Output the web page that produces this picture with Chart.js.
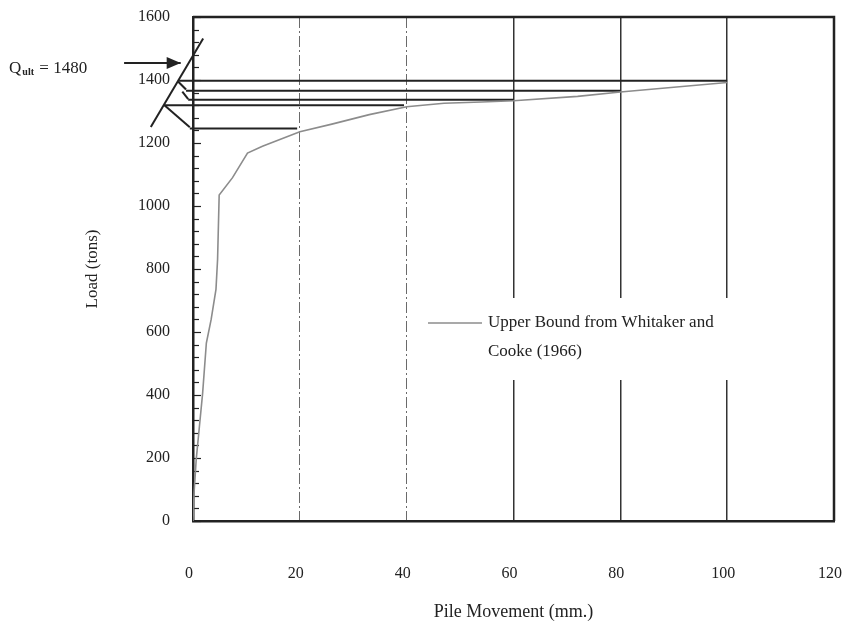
<!DOCTYPE html>
<html>
<head>
<meta charset="utf-8">
<script src="https://cdn.jsdelivr.net/npm/chart.js@4.4.1/dist/chart.umd.min.js"></script>
<style>
  html, body { margin: 0; padding: 0; background: #fff; }
  #wrap { width: 842px; height: 626px; }
</style>
</head>
<body>
<div id="wrap"><canvas id="pileChart" width="842" height="626"></canvas></div>
<script>
const xTicks = [0, 20, 40, 60, 80, 100, 120];
const yTicks = [0, 200, 400, 600, 800, 1000, 1200, 1400, 1600];
const yMinorStep = 40;

// load test curve
const movement = [0, 0.2, 0.6, 1.2, 1.8, 2.5, 3.4, 4.3, 4.6, 4.9, 7.4, 10.2, 13, 20, 26, 33, 40, 47, 54, 60, 72, 80, 100];
const load = [0, 90, 195, 300, 405, 565, 640, 735, 830, 1035, 1090, 1168, 1190, 1236, 1260, 1290, 1315, 1326, 1330, 1334, 1348, 1362, 1392];

// Q_ult construction, every segment listed right to left
const levelLoads = [1398, 1366, 1337, 1320, 1246];
const levelEnds = [100, 80, 60, 39.5, 19.5];
const levelStarts = [-2.6, -1.3, -0.9, -5.4, -0.6];

const diagonalX = [1.9, -7.9];
const diagonalY = [1532, 1251];

const hookX = [[-1.3, -2.8], [-0.9, -2.0], [-0.6, -5.4]];
const hookY = [[1370, 1395], [1339, 1363], [1250, 1321]];

const arrowX = [-2.3, -12.9];
const arrowY = [1454, 1454];
const qultValue = "1480";

const legendText = ["Upper Bound from Whitaker and", "Cooke (1966)"];

const SERIF = "'Liberation Serif', 'Times New Roman', serif";
const INK = "#222";
const CURVE = "#8c8c8c";

function seg(xs, ys) {
    return xs.map((x, i) => ({ x: x, y: ys[i] }));
}

const pileDecor = {
    id: "pileDecor",
    beforeDatasetsDraw(chart) {
        const ctx = chart.ctx;
        const y = chart.scales.y;
        const area = chart.chartArea;

        // legend background cuts the grid lines
        ctx.save();
        ctx.fillStyle = "#fff";
        ctx.fillRect(420, 298, 320, 82);

        // minor ticks inside the left axis
        ctx.strokeStyle = INK;
        ctx.lineWidth = 1.2;
        for (let v = 0; v <= 1600; v += yMinorStep) {
            const py = Math.round(y.getPixelForValue(v)) + 0.5;
            ctx.beginPath();
            ctx.moveTo(area.left, py);
            ctx.lineTo(area.left + (v % 200 === 0 ? 8 : 6), py);
            ctx.stroke();
        }
        ctx.restore();
    },
    afterDraw(chart) {
        const ctx = chart.ctx;
        const area = chart.chartArea;
        const x = chart.scales.x;
        const y = chart.scales.y;

        ctx.save();
        // top and right frame
        ctx.strokeStyle = INK;
        ctx.lineWidth = 2.5;
        ctx.beginPath();
        ctx.moveTo(area.left, area.top);
        ctx.lineTo(area.right, area.top);
        ctx.lineTo(area.right, area.bottom);
        ctx.stroke();

        // arrow head at the tip of the Q_ult arrow
        const tx = x.getPixelForValue(arrowX[0]);
        const ty = y.getPixelForValue(arrowY[0]);
        ctx.fillStyle = INK;
        ctx.beginPath();
        ctx.moveTo(tx, ty);
        ctx.lineTo(tx - 14, ty - 6);
        ctx.lineTo(tx - 14, ty + 6);
        ctx.closePath();
        ctx.fill();

        // legend
        ctx.strokeStyle = CURVE;
        ctx.lineWidth = 1.5;
        ctx.beginPath();
        ctx.moveTo(428, 323);
        ctx.lineTo(482, 323);
        ctx.stroke();
        ctx.fillStyle = INK;
        ctx.font = "17px " + SERIF;
        ctx.textBaseline = "middle";
        ctx.textAlign = "left";
        ctx.fillText(legendText[0], 488, 323);
        ctx.fillText(legendText[1], 488, 352);

        // Q_ult label left of the arrow
        const ax = x.getPixelForValue(arrowX[1]);
        const ay = y.getPixelForValue(arrowY[1]);
        ctx.textBaseline = "alphabetic";
        ctx.font = "17px " + SERIF;
        ctx.fillText("Q", ax - 115, ay + 10);
        const qw = ctx.measureText("Q").width;
        ctx.font = "bold 10px " + SERIF;
        ctx.fillText("ult", ax - 115 + qw + 1, ay + 12);
        const uw = ctx.measureText("ult").width;
        ctx.font = "17px " + SERIF;
        ctx.fillText(" = " + qultValue, ax - 115 + qw + uw + 2, ay + 10);
        ctx.restore();
    }
};

function renderPileChart() {
    const construction = { borderColor: INK, borderWidth: 2, pointRadius: 0, clip: false, fill: false };

    const datasets = [
        {
            label: "Upper Bound from Whitaker and Cooke (1966)",
            data: seg(movement, load),
            borderColor: CURVE,
            borderWidth: 1.6,
            pointRadius: 0,
            tension: 0,
            fill: false
        },
        Object.assign({ data: seg(diagonalX, diagonalY) }, construction)
    ];

    levelLoads.forEach((v, i) => {
        datasets.push(Object.assign({ data: seg([levelEnds[i], levelStarts[i]], [v, v]) }, construction));
    });
    hookX.forEach((xs, i) => {
        datasets.push(Object.assign({ data: seg(xs, hookY[i]) }, construction));
    });
    datasets.push(Object.assign({ data: seg(arrowX, arrowY) }, construction));

    new Chart(document.getElementById("pileChart"), {
        type: "line",
        data: { datasets },
        options: {
            responsive: false,
            devicePixelRatio: 1,
            animation: false,
            layout: { padding: { left: 78, top: 17, right: 8, bottom: 0 } },
            plugins: {
                legend: { display: false },
                tooltip: { enabled: false }
            },
            scales: {
                x: {
                    type: "linear",
                    min: 0,
                    max: 120,
                    afterBuildTicks: s => { s.ticks = xTicks.map(v => ({ value: v })); },
                    afterFit: s => { s.height = 105; s.paddingLeft = 0; s.paddingRight = 0; },
                    ticks: {
                        font: { family: SERIF, size: 16 },
                        color: INK,
                        padding: 43,
                        labelOffset: -4,
                        maxRotation: 0,
                        callback: v => String(v)
                    },
                    grid: {
                        drawTicks: false,
                        color: ctx => (ctx.tick && ctx.tick.value <= 40 ? "#6a6a6a" : "#333"),
                        lineWidth: ctx => (ctx.tick && ctx.tick.value <= 40 ? 1 : 1.5)
                    },
                    border: {
                        color: INK,
                        width: 2.5,
                        dash: ctx => (ctx.tick && ctx.tick.value > 0 && ctx.tick.value <= 40 ? [11, 3, 2, 3] : [])
                    },
                    title: {
                        display: true,
                        text: "Pile Movement (mm.)",
                        color: INK,
                        font: { family: SERIF, size: 18 },
                        padding: { top: 0, bottom: 3 }
                    }
                },
                y: {
                    min: 0,
                    max: 1600,
                    afterBuildTicks: s => { s.ticks = yTicks.map(v => ({ value: v })); },
                    afterFit: s => { s.width = 115; s.paddingTop = 0; s.paddingBottom = 0; },
                    ticks: {
                        font: { family: SERIF, size: 16 },
                        color: INK,
                        padding: 23,
                        callback: v => String(v)
                    },
                    grid: { display: false, drawTicks: false },
                    border: { color: INK, width: 2.5 },
                    title: {
                        display: true,
                        text: "Load (tons)",
                        color: INK,
                        font: { family: SERIF, size: 17 },
                        padding: { top: 4, bottom: 0 }
                    }
                }
            }
        },
        plugins: [pileDecor]
    });
}

renderPileChart();
</script>
</body>
</html>
